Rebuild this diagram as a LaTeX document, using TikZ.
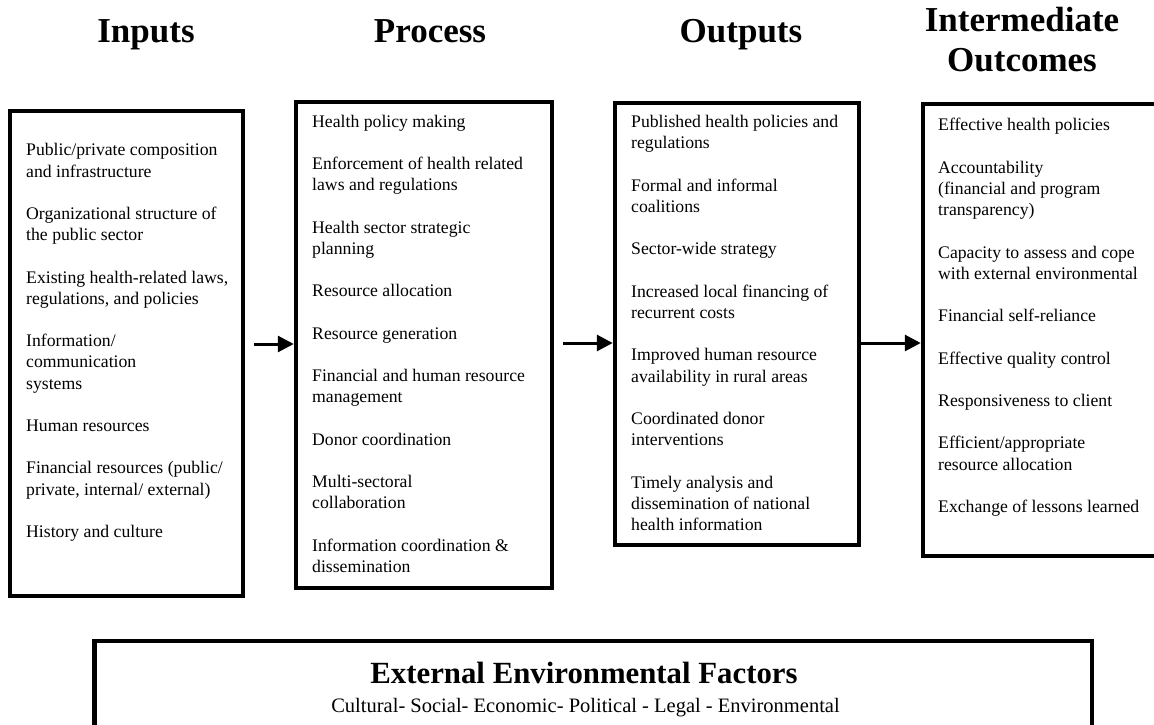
\documentclass[tikz,border=0pt]{standalone}
\usepackage{fontspec}
\setmainfont{Liberation Serif}
\usetikzlibrary{arrows.meta}
\begin{document}
\begin{tikzpicture}[x=1pt,y=-1pt,
  box/.style={draw, line width=4.5pt, inner sep=0pt, fill=none},
  itemtxt/.style={font=\fontsize{17.7}{21.2}\selectfont, align=left, inner sep=0pt, anchor=base west},
  ttl/.style={font=\fontsize{35}{40}\selectfont\bfseries, inner sep=0pt, anchor=base, align=center},
  arr/.style={line width=3pt, -{Triangle[length=16pt,width=16pt]}}]
\useasboundingbox (0,0) rectangle (1154,725);
\fill[white] (0,0) rectangle (1154,725);
% titles
\node[ttl] (tin) at (146,43) {Inputs};
\node[ttl] (tproc) at (430,43) {Process};
\node[ttl] (tout) at (741,43) {Outputs};
\node[ttl] (tint) at (1022,72) {Intermediate\\Outcomes};
% boxes
\node[box, minimum width=233pt, minimum height=485pt] (inb) at (126.5,353.5) {};
\node[box, minimum width=256pt, minimum height=486pt] (procb) at (424,345) {};
\node[box, minimum width=244pt, minimum height=442pt] (outb) at (737,324) {};
\node[box, minimum width=233pt, minimum height=452pt] (intb) at (1039.5,330) {};
\node[box, minimum width=997.5pt, minimum height=86pt] (extb) at (593.25,684) {};
% texts (anchored at the baseline of their last line)
\node[itemtxt] (intxt) at (26,537.5) {Public/private composition\\and infrastructure\\[21.2pt]
Organizational structure of\\the public sector\\[21.2pt]
Existing health-related laws,\\regulations, and policies\\[21.2pt]
Information/\\communication\\systems\\[21.2pt]
Human resources\\[21.2pt]
Financial resources (public/\\private, internal/ external)\\[21.2pt]
History and culture};
\node[itemtxt] (proctxt) at (312,572.5) {Health policy making\\[21.2pt]
Enforcement of health related\\laws and regulations\\[21.2pt]
Health sector strategic\\planning\\[21.2pt]
Resource allocation\\[21.2pt]
Resource generation\\[21.2pt]
Financial and human resource\\management\\[21.2pt]
Donor coordination\\[21.2pt]
Multi-sectoral\\collaboration\\[21.2pt]
Information coordination \&\\dissemination};
\node[itemtxt] (outtxt) at (631,530.5) {Published health policies and\\regulations\\[21.2pt]
Formal and informal\\coalitions\\[21.2pt]
Sector-wide strategy\\[21.2pt]
Increased local financing of\\recurrent costs\\[21.2pt]
Improved human resource\\availability in rural areas\\[21.2pt]
Coordinated donor\\interventions\\[21.2pt]
Timely analysis and\\dissemination of national\\health information};
\node[itemtxt] (inttxt) at (938,512.5) {Effective health policies\\[21.2pt]
Accountability\\(financial and program\\transparency)\\[21.2pt]
Capacity to assess and cope\\with external environmental\\[21.2pt]
Financial self-reliance\\[21.2pt]
Effective quality control\\[21.2pt]
Responsiveness to client\\[21.2pt]
Efficient/appropriate\\resource allocation\\[21.2pt]
Exchange of lessons learned};
% external factors
\node[inner sep=0pt, anchor=base, font=\fontsize{30.8}{34}\selectfont\bfseries] (exttitle) at (584,683) {External Environmental Factors};
\node[inner sep=0pt, anchor=base, font=\fontsize{20.5}{24}\selectfont] (extsub) at (585.5,712) {Cultural- Social- Economic- Political - Legal - Environmental};
% arrows
\coordinate (a1) at (254,344);
\coordinate (a2) at (563,343);
\draw[arr] (a1) -- (a1 -| procb.west);
\draw[arr] (a2) -- (a2 -| outb.west);
\draw[arr] (outb.east |- a2) -- (a2 -| intb.west);
\end{tikzpicture}
\end{document}
